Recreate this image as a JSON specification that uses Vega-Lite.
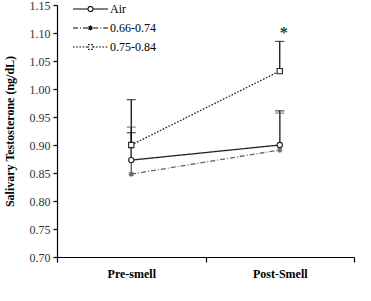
{
  "$schema": "https://vega.github.io/schema/vega-lite/v6.json",
  "width": 297,
  "height": 252,
  "autosize": "none",
  "padding": {"left": 57, "top": 5, "right": 17, "bottom": 44},
  "background": "white",
  "config": {
    "view": {"stroke": null},
    "font": "Liberation Serif",
    "legend": {"labelFont": "Liberation Serif", "padding": 0}
  },
  "datasets": {
    "means": [
      {"time": "Pre-smell", "group": "Air", "value": 0.873, "upper": 0.922},
      {"time": "Post-Smell", "group": "Air", "value": 0.900, "upper": 0.961},
      {"time": "Pre-smell", "group": "0.66-0.74", "value": 0.848, "upper": 0.932},
      {"time": "Post-Smell", "group": "0.66-0.74", "value": 0.891, "upper": 0.957},
      {"time": "Pre-smell", "group": "0.75-0.84", "value": 0.900, "upper": 0.981},
      {"time": "Post-Smell", "group": "0.75-0.84", "value": 1.032, "upper": 1.085}
    ],
    "star": [
      {"time": "Post-Smell", "value": 1.11, "label": "*"}
    ]
  },
  "data": {"name": "means"},
  "encoding": {
    "x": {"field": "time", "type": "nominal", "sort": ["Pre-smell", "Post-Smell"],
      "scale": {"type": "band", "paddingInner": 0, "paddingOuter": 0},
      "axis": {"title": null, "labelFont": "Liberation Serif", "labelFontSize": 12, "labelFontWeight": "bold", "labelColor": "black", "labelPadding": 6, "tickBand": "extent", "tickSize": 5, "tickColor": "black", "domainColor": "black", "domainWidth": 1.2, "tickWidth": 1.2, "labelAngle": 0}},
    "y": {"field": "value", "type": "quantitative",
      "scale": {"domain": [0.70, 1.15], "zero": false, "nice": false},
      "axis": {"title": "Salivary Testosterone (ng/dL)", "titleFont": "Liberation Serif", "titleFontSize": 12, "titleFontWeight": "bold", "titleColor": "black", "titlePadding": 13,
        "values": [0.70, 0.75, 0.80, 0.85, 0.90, 0.95, 1.00, 1.05, 1.10, 1.15], "format": ".2f", "labelOverlap": false,
        "labelFont": "Liberation Serif", "labelFontSize": 12, "labelColor": "#333", "grid": false, "tickSize": 4, "tickColor": "black", "tickWidth": 1.2, "domainColor": "black", "domainWidth": 1.2, "labelPadding": 3}}
  },
  "layer": [
    {
      "mark": {"type": "rule", "strokeWidth": 1.2},
      "encoding": {
        "y2": {"field": "upper"},
        "color": {"field": "group", "type": "nominal", "scale": {"range": ["#3f5e3f", "black", "black"]}, "legend": null}
      }
    },
    {
      "mark": {"type": "tick", "size": 9, "thickness": 1.2},
      "encoding": {
        "y": {"field": "upper", "type": "quantitative"},
        "color": {"field": "group", "type": "nominal", "legend": null}
      }
    },
    {
      "mark": {"type": "line", "strokeWidth": 1.3},
      "encoding": {
        "detail": {"field": "group"},
        "stroke": {"field": "group", "type": "nominal",
          "scale": {"range": ["#5a6e5a", "#222222", "#222222"]},
          "legend": null},
        "strokeDash": {"field": "group", "type": "nominal",
          "scale": {"domain": ["Air", "0.66-0.74", "0.75-0.84"], "range": [[1, 0], [5, 2, 1, 2], [1.6, 1.6]]},
          "legend": {
            "title": null, "orient": "none", "legendX": 26.5, "legendY": -3,
            "symbolSize": 144, "symbolStrokeWidth": 1.1, "symbolStrokeColor": "black", "symbolFillColor": "white",
            "labelFont": "Liberation Serif", "labelFontSize": 12, "labelColor": "black", "labelOffset": 12.5,
            "rowPadding": 6,
            "encoding": {
              "symbols": {
                "stroke": {"value": "black"},
                "fill": {"value": "white"},
                "shape": {"value": {"expr": "datum.value === 'Air' ? 'M-2.92,0H-0.42A0.42,0.42 0 1,1 0.42,0H2.92M0.42,0A0.42,0.42 0 1,1 -0.42,0' : datum.value === '0.66-0.74' ? 'M-2.92,0H-0.45M0.45,0H2.92M-0.45,0H0.45M0,-0.45V0.45M-0.32,-0.32L0.32,0.32M-0.32,0.32L0.32,-0.32' : 'M-2.92,0H-0.4M0.4,0H2.92M-0.4,-0.4H0.4V0.4H-0.4Z'"}}
              },
              "labels": {
                "font": {"value": "Liberation Serif"},
                "fontSize": {"value": 12},
                "fill": {"value": "black"}
              }
            }
          }}
      }
    },
    {
      "mark": {"type": "point", "filled": false, "strokeWidth": 1.1, "size": 28, "fill": "white", "fillOpacity": 1, "opacity": 1},
      "encoding": {
        "shape": {"field": "group", "type": "nominal",
          "scale": {"range": ["M0,-1V1M-1,0H1M-0.75,-0.75L0.75,0.75M-0.75,0.75L0.75,-0.75", "square", "circle"]},
          "legend": null},
        "stroke": {"field": "group", "type": "nominal", "legend": null}
      }
    },
    {
      "data": {"name": "star"},
      "mark": {"type": "text", "fontSize": 16, "font": "Liberation Serif", "color": "#1e4d1e", "fontWeight": "bold", "dx": 4, "dy": 6},
      "encoding": {
        "text": {"field": "label"}
      }
    }
  ]
}
